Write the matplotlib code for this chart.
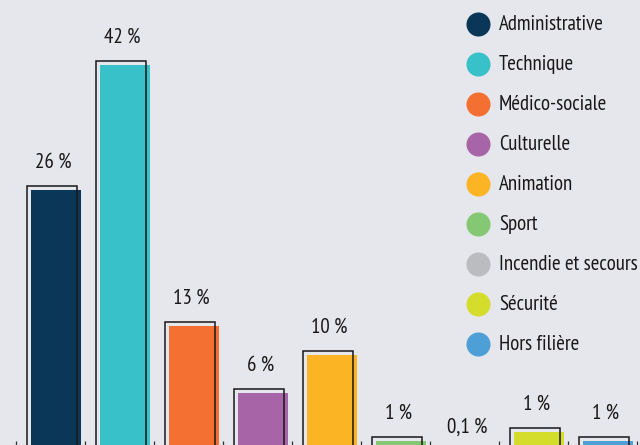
import matplotlib
matplotlib.use("Agg")
import matplotlib.pyplot as plt
from matplotlib.patches import Rectangle

categories = ["Administrative", "Technique", "Médico-sociale", "Culturelle",
              "Animation", "Sport", "Incendie et secours", "Sécurité", "Hors filière"]
# bar heights as drawn in the picture (not proportional to the printed labels)
heights = [26.6, 39.1, 13.0, 6.3, 10.1, 1.5, 0.05, 2.4, 1.5]
labels = ["26 %", "42 %", "13 %", "6 %", "10 %", "1 %", "0,1 %", "1 %", "1 %"]
colors = ["#0a3658", "#38c1c9", "#f37032", "#a765a8", "#fbb424",
          "#84c874", "#bbbcc0", "#d4dc2c", "#4f9fd7"]

plt.rcParams["font.family"] = ["PT Sans Narrow", "Roboto Condensed", "DejaVu Sans"]

BG = "#e6e7ec"
INK = "#1a1718"

fig = plt.figure(figsize=(6.4, 4.45), dpi=100, facecolor=BG)
ax = fig.add_axes([0, 0, 1, 1], facecolor=BG)

px = 1 / 69.0          # one pixel in x data units
py = 0.1               # one pixel in y data units
bw = 50 * px

for i, (h, c, lab) in enumerate(zip(heights, colors, labels)):
    x_out = i - 0.5 + 10.5 * px
    ax.add_patch(Rectangle((x_out + 4 * px, 0), bw, max(h - 4 * py, 0),
                           facecolor=c, edgecolor="none", zorder=2))
    ax.add_patch(Rectangle((x_out, 0), bw, h, facecolor="none",
                           edgecolor=INK, linewidth=1.1, zorder=3))
    ax.text(x_out + bw / 2 + 2 * px, h + 24 * py, lab, ha="center", va="center",
            fontsize=15, color=INK, zorder=4)

ax.set_xlim(-0.5 - 16 * px, -0.5 - 16 * px + 640 * px)
ax.set_ylim(0.7, 45.2)

for s in ax.spines.values():
    s.set_visible(False)
ax.set_xticks([i - 0.5 for i in range(len(categories) + 1)])
ax.set_xticklabels([])
ax.set_yticks([])
ax.tick_params(axis="x", direction="in", length=3, width=0.9, color="#333333")

for k, (name, c) in enumerate(zip(categories, colors)):
    yy = 1 - (24.3 + 40 * k) / 445.0
    ax.scatter([477.7 / 640.0], [yy], s=300, color=c, transform=ax.transAxes,
               clip_on=False, zorder=5, linewidths=0)
    ax.text(499 / 640.0, yy, name, transform=ax.transAxes, ha="left",
            va="center", fontsize=15, color=INK, zorder=5)

fig.savefig("out.png", dpi=100, facecolor=BG)
